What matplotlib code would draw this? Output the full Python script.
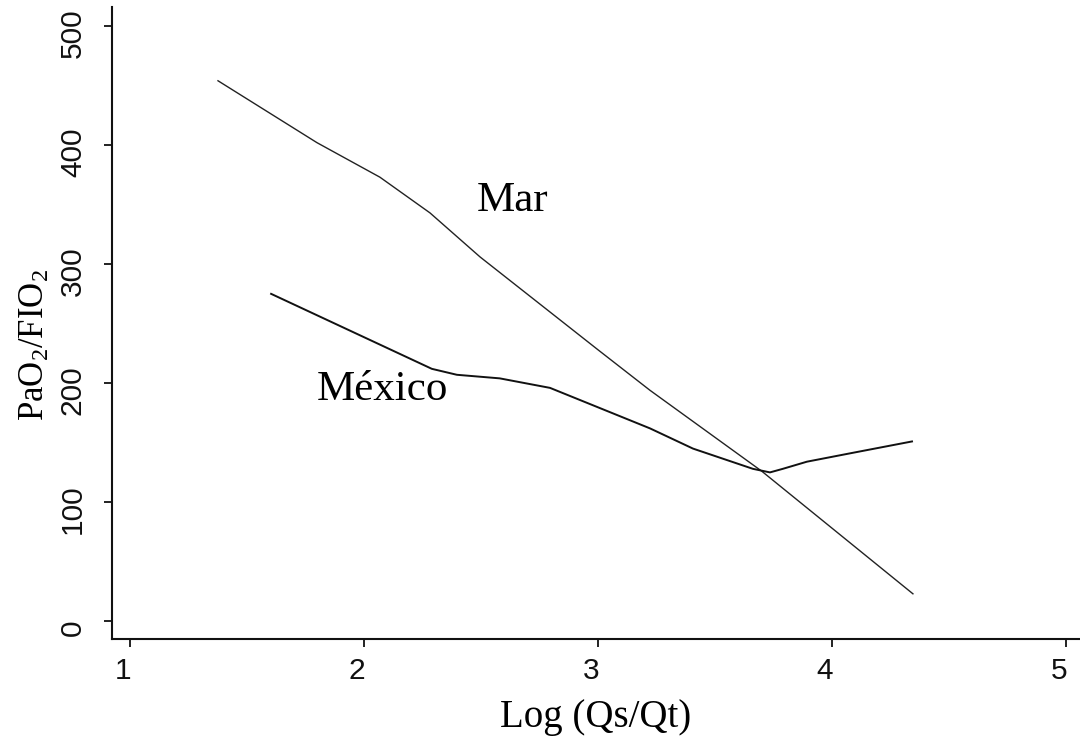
"""
PaO2/FIO2 vs Log(Qs/Qt), sea level (Mar) vs Mexico City.
"""

import matplotlib
matplotlib.use('Agg')
import matplotlib.pyplot as plt
import matplotlib.transforms as mtransforms

plt.rcParams['mathtext.fontset'] = 'custom'
plt.rcParams['mathtext.rm'] = 'Liberation Serif'

# curves
mar_x = [1.376, 1.799, 2.068, 2.282, 2.496, 3.0, 3.222, 3.70, 4.346]
mar_y = [454, 402, 373, 343, 306, 228, 194, 126, 23]

mex_x = [1.603, 2.29, 2.397, 2.58, 2.795, 2.996, 3.222, 3.406, 3.662, 3.735, 3.79, 3.893, 4.077, 4.342]
mex_y = [275, 212, 207, 204, 196, 180, 162, 145, 128, 125, 128, 134, 141, 151]

xticks = [1, 2, 3, 4, 5]
yticks = [0, 100, 200, 300, 400, 500]

fig = plt.figure(figsize=(10.8, 7.49), dpi=100)
ax = fig.add_axes([0.1037, 0.1468, 0.8963, 0.8439])

ax.plot(mar_x, mar_y, color='#222222', lw=1.0)
ax.plot(mex_x, mex_y, color='#111111', lw=1.4)

ax.set_xlim(0.923, 5.06)
ax.set_ylim(-15, 516)

ax.spines['top'].set_visible(False)
ax.spines['right'].set_visible(False)
for s in ['left', 'bottom']:
    ax.spines[s].set_linewidth(1.5)
    ax.spines[s].set_color('#111111')

ax.set_xticks(xticks)
ax.set_yticks(yticks)
ax.tick_params(direction='out', length=6, width=1.3, colors='#111111',
               labelsize=21.5)
ax.tick_params(axis='x', pad=7)
ax.tick_params(axis='y', pad=12)

# the scanned labels sit a little left / below their ticks
shift = mtransforms.ScaledTranslation(-7 / 100, -7 / 100, fig.dpi_scale_trans)
for lab in ax.get_xticklabels():
    lab.set_family('Liberation Sans')
    lab.set_transform(lab.get_transform() + mtransforms.ScaledTranslation(-7 / 100, 0, fig.dpi_scale_trans))
for lab in ax.get_yticklabels():
    lab.set_family('Liberation Sans')
    lab.set_rotation(90)
    lab.set_va('center')
    lab.set_transform(lab.get_transform() + mtransforms.ScaledTranslation(0, -7 / 100, fig.dpi_scale_trans))

ax.set_xlabel('Log (Qs/Qt)', family='Liberation Serif', fontsize=28)
ax.set_ylabel(r'$\mathrm{PaO_2/FIO_2}$', fontsize=25)
ax.xaxis.set_label_coords(0.5, -0.095)
ax.yaxis.set_label_coords(-0.063, 0.465)

ax.text(2.483, 345, 'Mar', family='Liberation Serif', fontsize=31)
ax.text(1.799, 186, 'México', family='Liberation Serif', fontsize=31)

plt.savefig('out.png', dpi=100)
